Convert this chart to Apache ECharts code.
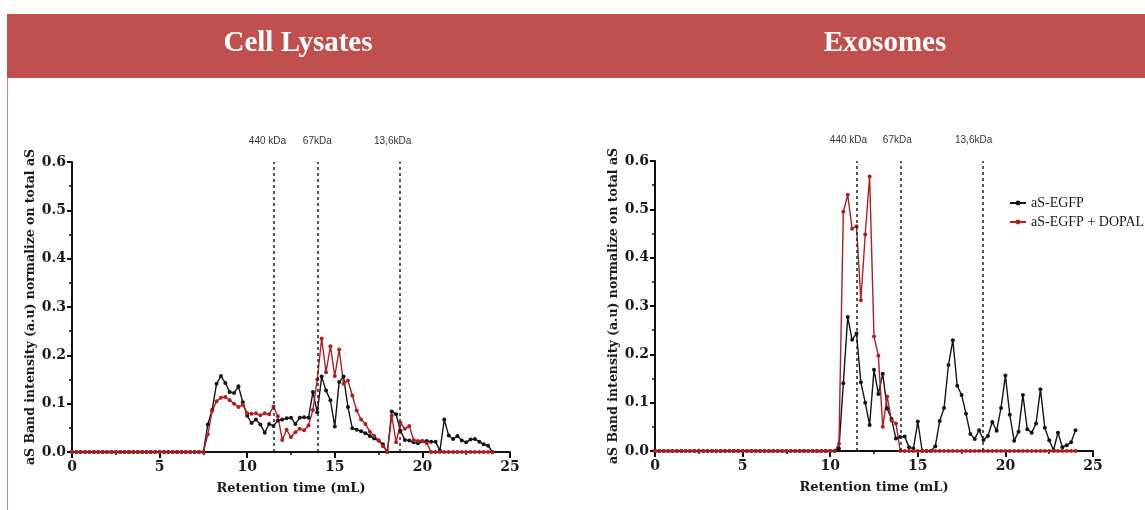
<!DOCTYPE html>
<html>
<head>
<meta charset="utf-8">
<script src="https://cdn.jsdelivr.net/npm/echarts@6/dist/echarts.min.js"></script>
<style>
  html, body { margin: 0; padding: 0; background: #ffffff; }
  #chart { width: 1145px; height: 510px; }
</style>
</head>
<body>
<div id="chart"></div>
<script>
// Retention volume of each collected fraction (mL)
const retention = [
  0, 0.25, 0.5, 0.75, 1, 1.25, 1.5, 1.75, 2, 2.25,
  2.5, 2.75, 3, 3.25, 3.5, 3.75, 4, 4.25, 4.5, 4.75,
  5, 5.25, 5.5, 5.75, 6, 6.25, 6.5, 6.75, 7, 7.25,
  7.5, 7.75, 8, 8.25, 8.5, 8.75, 9, 9.25, 9.5, 9.75,
  10, 10.25, 10.5, 10.75, 11, 11.25, 11.5, 11.75, 12, 12.25,
  12.5, 12.75, 13, 13.25, 13.5, 13.75, 14, 14.25, 14.5, 14.75,
  15, 15.25, 15.5, 15.75, 16, 16.25, 16.5, 16.75, 17, 17.25,
  17.5, 17.75, 18, 18.25, 18.5, 18.75, 19, 19.25, 19.5, 19.75,
  20, 20.25, 20.5, 20.75, 21, 21.25, 21.5, 21.75, 22, 22.25,
  22.5, 22.75, 23, 23.25, 23.5, 23.75, 24
];

// Cell lysates: aS band intensity normalised on total aS
const lysateEGFP = [
  0, 0, 0, 0, 0, 0, 0, 0, 0, 0,
  0, 0, 0, 0, 0, 0, 0, 0, 0, 0,
  0, 0, 0, 0, 0, 0, 0, 0, 0, 0,
  0, 0.057, 0.087, 0.141, 0.157, 0.143, 0.124, 0.122, 0.136, 0.103,
  0.075, 0.060, 0.067, 0.057, 0.040, 0.058, 0.054, 0.065, 0.067, 0.070,
  0.071, 0.058, 0.071, 0.072, 0.071, 0.124, 0.082, 0.156, 0.127, 0.107,
  0.053, 0.145, 0.156, 0.093, 0.049, 0.046, 0.043, 0.039, 0.033, 0.028,
  0.024, 0.016, 0.000, 0.084, 0.078, 0.044, 0.025, 0.024, 0.020, 0.018,
  0.022, 0.023, 0.021, 0.021, 0.003, 0.067, 0.034, 0.027, 0.033, 0.024,
  0.020, 0.026, 0.027, 0.021, 0.016, 0.013, 0.000
];
const lysateDOPAL = [
  0, 0, 0, 0, 0, 0, 0, 0, 0, 0,
  0, 0, 0, 0, 0, 0, 0, 0, 0, 0,
  0, 0, 0, 0, 0, 0, 0, 0, 0, 0,
  0, 0.036, 0.085, 0.105, 0.112, 0.114, 0.107, 0.100, 0.093, 0.098,
  0.080, 0.079, 0.080, 0.076, 0.080, 0.078, 0.094, 0.074, 0.025, 0.046,
  0.031, 0.041, 0.048, 0.045, 0.055, 0.087, 0.150, 0.235, 0.165, 0.219,
  0.157, 0.212, 0.141, 0.148, 0.117, 0.086, 0.067, 0.058, 0.042, 0.033,
  0.024, 0.012, 0.000, 0.075, 0.020, 0.060, 0.048, 0.054, 0.025, 0.023,
  0.023, 0.018, 0.000, 0, 0, 0, 0, 0, 0, 0,
  0, 0, 0, 0, 0, 0, 0
];

// Exosomes: aS band intensity normalised on total aS
const exosomeEGFP = [
  0, 0, 0, 0, 0, 0, 0, 0, 0, 0,
  0, 0, 0, 0, 0, 0, 0, 0, 0, 0,
  0, 0, 0, 0, 0, 0, 0, 0, 0, 0,
  0, 0, 0, 0, 0, 0, 0, 0, 0, 0,
  0, 0, 0.005, 0.140, 0.277, 0.230, 0.243, 0.142, 0.100, 0.054,
  0.168, 0.118, 0.160, 0.088, 0.066, 0.026, 0.029, 0.030, 0.008, 0.005,
  0.061, 0.000, 0.000, 0.000, 0.010, 0.062, 0.089, 0.178, 0.229, 0.135,
  0.116, 0.077, 0.035, 0.025, 0.043, 0.023, 0.031, 0.060, 0.042, 0.089,
  0.156, 0.075, 0.021, 0.040, 0.116, 0.045, 0.038, 0.057, 0.128, 0.048,
  0.022, 0.002, 0.038, 0.008, 0.012, 0.018, 0.043
];
const exosomeDOPAL = [
  0, 0, 0, 0, 0, 0, 0, 0, 0, 0,
  0, 0, 0, 0, 0, 0, 0, 0, 0, 0,
  0, 0, 0, 0, 0, 0, 0, 0, 0, 0,
  0, 0, 0, 0, 0, 0, 0, 0, 0, 0,
  0, 0, 0.015, 0.495, 0.530, 0.460, 0.465, 0.312, 0.448, 0.568,
  0.237, 0.197, 0.050, 0.113, 0.063, 0.057, 0.000, 0, 0, 0,
  0, 0, 0, 0, 0, 0, 0, 0, 0, 0,
  0, 0, 0, 0, 0, 0, 0, 0, 0, 0,
  0, 0, 0, 0, 0, 0, 0, 0, 0, 0,
  0, 0, 0, 0, 0, 0, 0
];

// Molecular-weight calibration standards (elution volume, mL)
const standardVolumes = [11.5, 14, 18.7];
const standardLabels = ['440 kDa', '67kDa', '13,6kDa'];

const panelTitles = ['Cell Lysates', 'Exosomes'];
const seriesNames = ['aS-EGFP', 'aS-EGFP + DOPAL'];
const xAxisName = 'Retention time (mL)';
const yAxisName = 'aS Band intensity (a.u) normalize on total aS';

const BLACK = '#151515';
const RED = '#b01f22';
const SERIF_BOLD = 'DejaVu Serif';

function pairs(values) {
  return retention.map((x, i) => [x, values[i]]);
}

function xAxis(gridIndex) {
  return {
    type: 'value', gridIndex, min: 0, max: 25, interval: 5,
    name: xAxisName, nameLocation: 'middle', nameGap: 30,
    nameTextStyle: { fontFamily: SERIF_BOLD, fontWeight: 'bold', fontSize: 13, color: '#1a1a1a' },
    axisLine: { show: true, onZero: false, lineStyle: { color: '#111', width: 2 } },
    axisTick: { show: true, inside: false, length: 6, lineStyle: { color: '#111', width: 2 } },
    minorTick: { show: true, splitNumber: 2, length: 3, lineStyle: { color: '#111', width: 1.5 } },
    axisLabel: { margin: 8, fontFamily: SERIF_BOLD, fontWeight: 'bold', fontSize: 14, color: '#1a1a1a' },
    splitLine: { show: false }
  };
}

function yAxis(gridIndex) {
  return {
    type: 'value', gridIndex, min: 0, max: 0.6, interval: 0.1,
    name: yAxisName, nameLocation: 'middle', nameGap: 34, nameRotate: 90,
    nameTextStyle: { fontFamily: SERIF_BOLD, fontWeight: 'bold', fontSize: 12.5, color: '#1a1a1a' },
    axisLine: { show: true, lineStyle: { color: '#111', width: 2 } },
    axisTick: { show: true, inside: false, length: 5, lineStyle: { color: '#111', width: 2 } },
    minorTick: { show: true, splitNumber: 2, length: 3, lineStyle: { color: '#111', width: 1.5 } },
    axisLabel: {
      margin: 6, fontFamily: SERIF_BOLD, fontWeight: 'bold', fontSize: 14, color: '#1a1a1a',
      formatter: v => v.toFixed(1)
    },
    splitLine: { show: false }
  };
}

function standards(offsets) {
  return {
    silent: true,
    symbol: 'none',
    lineStyle: { color: '#222', type: [3, 3], width: 1.5 },
    label: {
      show: true, position: 'end', distance: 16,
      fontFamily: 'Liberation Sans', fontSize: 10, color: '#333'
    },
    data: standardVolumes.map((v, i) => ({
      xAxis: v,
      label: { formatter: standardLabels[i], offset: [offsets[i], 0] }
    }))
  };
}

function lineSeries(name, values, color, gridIndex, extra) {
  return Object.assign({
    name, type: 'line',
    xAxisIndex: gridIndex, yAxisIndex: gridIndex,
    data: pairs(values),
    symbol: 'circle', symbolSize: 4, showAllSymbol: true,
    itemStyle: { color },
    lineStyle: { color, width: 1.4 },
    emphasis: { disabled: true },
    animation: false
  }, extra || {});
}

const chart = echarts.init(document.getElementById('chart'), null, { renderer: 'canvas' });

chart.setOption({
  backgroundColor: '#ffffff',
  animation: false,
  graphic: [
    { type: 'rect', shape: { x: 7, y: 14, width: 1140, height: 64 }, style: { fill: '#c0504d' } },
    { type: 'line', shape: { x1: 7.5, y1: 78, x2: 7.5, y2: 510 }, style: { stroke: '#c98a88', lineWidth: 1 } },
    { type: 'text', x: 298, y: 44, style: {
        text: panelTitles[0], fill: '#ffffff', align: 'center', verticalAlign: 'middle',
        font: 'bold 29px "Liberation Serif"' } },
    { type: 'text', x: 885, y: 44, style: {
        text: panelTitles[1], fill: '#ffffff', align: 'center', verticalAlign: 'middle',
        font: 'bold 29px "Liberation Serif"' } }
  ],
  legend: {
    data: seriesNames,
    orient: 'vertical',
    left: 1004, top: 191,
    itemWidth: 16, itemHeight: 6, itemGap: 5,
    textStyle: { fontFamily: 'Liberation Serif', fontSize: 14, color: '#1a1a1a' },
    selectedMode: false
  },
  grid: [
    { left: 72, top: 162, width: 438, height: 290 },
    { left: 655, top: 161, width: 438, height: 290 }
  ],
  xAxis: [xAxis(0), xAxis(1)],
  yAxis: [yAxis(0), yAxis(1)],
  series: [
    lineSeries(seriesNames[0], lysateEGFP, BLACK, 0),
    lineSeries(seriesNames[1], lysateDOPAL, RED, 0, { markLine: standards([-6, 0, -7]) }),
    lineSeries(seriesNames[0], exosomeEGFP, BLACK, 1),
    lineSeries(seriesNames[1], exosomeDOPAL, RED, 1, { markLine: standards([-8, -3, -9]) })
  ]
});
</script>
</body>
</html>
